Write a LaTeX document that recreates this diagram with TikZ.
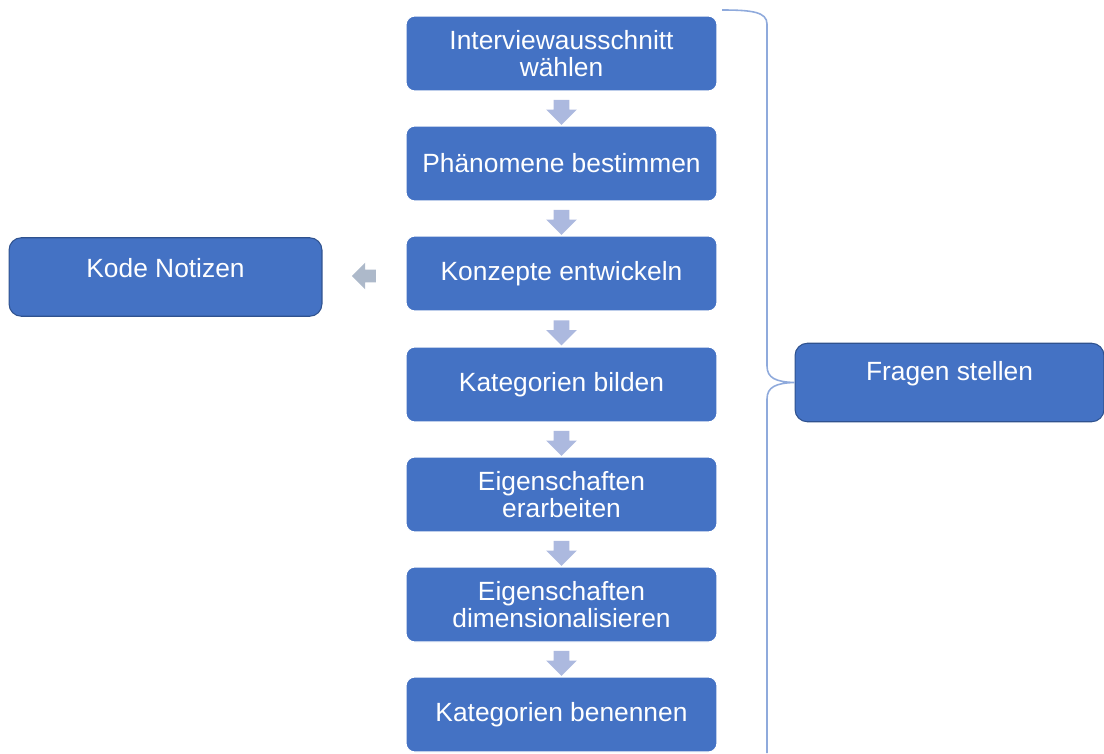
\documentclass[tikz,border=0pt]{standalone}
\usepackage{fontspec}
\setmainfont{Liberation Sans}
\usetikzlibrary{shapes.arrows}

\definecolor{boxblue}{RGB}{68,114,196}
\definecolor{boxedge}{RGB}{47,82,143}
\definecolor{arrowblue}{RGB}{172,185,223}
\definecolor{arrowgray}{RGB}{173,185,202}
\definecolor{bracketblue}{RGB}{143,170,220}

\tikzset{
    stepbox/.style={rectangle, rounded corners=5pt, fill=boxblue, draw=white, line width=0.6pt,
        minimum width=6.22cm, minimum height=1.5cm, inner sep=2pt,
        text=white, align=center, font=\fontsize{15}{15}\selectfont},
    sidebox/.style={rectangle, rounded corners=7pt, fill=boxblue, draw=boxedge, line width=0.6pt,
        minimum height=1.57cm, inner sep=0pt},
    sidetext/.style={text=white, font=\fontsize{15}{15}\selectfont, inner sep=0pt},
    downarrow/.style={single arrow, fill=arrowblue, draw=none, inner sep=0.15cm,
        minimum height=0.5cm, single arrow head extend=0.15cm,
        single arrow head indent=0pt, shape border rotate=270},
    leftarrow/.style={single arrow, fill=arrowgray, draw=none, inner sep=0.12cm,
        minimum height=0.48cm, single arrow head extend=0.14cm,
        single arrow head indent=0pt, shape border rotate=180}
}

\begin{document}
\begin{tikzpicture}[x=0.02cm, y=-0.02cm]

            %\draw [help lines] (0,0) grid (1104,753);
            \useasboundingbox (0,0) rectangle (1104,753);

            \path   (561.5,53.5)  node (a) [stepbox] {Interviewausschnitt\\wählen}
                    (561.5,163.5) node (b) [stepbox] {Phänomene bestimmen}
                    (561.5,273.5) node (c) [stepbox] {Konzepte entwickeln}
                    (561.5,384.5) node (d) [stepbox] {Kategorien bilden}
                    (561.5,494.5) node (e) [stepbox] {Eigenschaften\\erarbeiten}
                    (561.5,604.5) node (f) [stepbox] {Eigenschaften\\dimensionalisieren}
                    (561.5,714.5) node (g) [stepbox] {Kategorien benennen};

            \path   (165.5,277) node (k) [sidebox, minimum width=6.26cm] {}
                    (949.5,382.5) node (q) [sidebox, minimum width=6.18cm] {};
            \node (kt) [sidetext] at ([yshift=0.18cm]k.center) {Kode Notizen};
            \node (qt) [sidetext] at ([yshift=0.17cm]q.center) {Fragen stellen};

            % arrows between the steps
            \path   (561.5,108.5) node (ab) [downarrow] {}
                    (561.5,218.5) node (bc) [downarrow] {}
                    (561.5,329)   node (cd) [downarrow] {}
                    (561.5,439.5) node (de) [downarrow] {}
                    (561.5,549.5) node (ef) [downarrow] {}
                    (561.5,659.5) node (fg) [downarrow] {};
            \path   (367,276) node (ck) [leftarrow] {};

            % bracket towards Fragen stellen
            \draw[bracketblue, line width=0.9pt]
                (722,10) .. controls (752,10) and (767,12) .. (767,24) -- (767,366)
                .. controls (767,378) and (776,382) .. (q.west)
                .. controls (776,383) and (767,387) .. (767,399) -- (767,753);

\end{tikzpicture}
\end{document}
